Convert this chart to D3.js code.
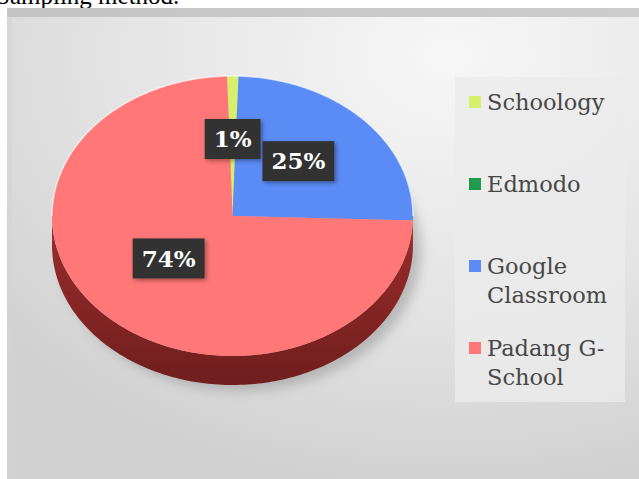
<!DOCTYPE html>
<html>
<head>
<meta charset="utf-8">
<script src="https://cdn.jsdelivr.net/npm/d3@7"></script>
<style>
  body { margin: 0; background: #ffffff; overflow: hidden; }
  #chart { width: 639px; height: 479px; }
</style>
</head>
<body>
<div id="chart"></div>
<script>
// --- data ---
var categories = ["Schoology", "Edmodo", "Google Classroom", "Padang G-School"];
var legendLines = [["Schoology"], ["Edmodo"], ["Google", "Classroom"], ["Padang G-", "School"]];
var shares = [1, 0, 25, 74];
var colors = ["#d6f06c", "#1e9b4c", "#5b8cf6", "#ff7777"];

var W = 639, H = 479;
var cx = 232.5, cy = 216, rx = 180.5, ry = 140, depth = 29;

var svg = d3.select("#chart").append("svg")
    .attr("width", W)
    .attr("height", H);

var defs = svg.append("defs");

// background gradient
var bg = defs.append("radialGradient")
    .attr("id", "bgGrad")
    .attr("cx", "70%").attr("cy", "10%").attr("r", "95%");
bg.append("stop").attr("offset", "0%").attr("stop-color", "#f7f7f7");
bg.append("stop").attr("offset", "55%").attr("stop-color", "#e4e4e4");
bg.append("stop").attr("offset", "100%").attr("stop-color", "#d0d0d0");

var topBand = defs.append("linearGradient")
    .attr("id", "bandGrad").attr("x1", 0).attr("x2", 1).attr("y1", 0).attr("y2", 0);
topBand.append("stop").attr("offset", "0%").attr("stop-color", "#c4c4c4");
topBand.append("stop").attr("offset", "100%").attr("stop-color", "#cdcdcd");

var blur = defs.append("filter").attr("id", "softShadow")
    .attr("x", "-20%").attr("y", "-20%").attr("width", "140%").attr("height", "140%");
blur.append("feGaussianBlur").attr("stdDeviation", 6);

var boxShadow = defs.append("filter").attr("id", "boxShadow")
    .attr("x", "-30%").attr("y", "-30%").attr("width", "160%").attr("height", "160%");
boxShadow.append("feDropShadow")
    .attr("dx", 2).attr("dy", 2).attr("stdDeviation", 2)
    .attr("flood-color", "#000").attr("flood-opacity", 0.35);

// caption of the page, mostly hidden behind the chart image
svg.append("text")
    .attr("x", -4)
    .attr("y", 4)
    .style("font-family", "'Liberation Serif', serif")
    .style("font-size", "25px")
    .style("fill", "#000")
    .text("Sampling method.");

// chart area
svg.append("rect")
    .attr("x", 7).attr("y", 8)
    .attr("width", W - 7).attr("height", H - 8)
    .attr("fill", "url(#bgGrad)");
svg.append("rect")
    .attr("x", 7).attr("y", 8)
    .attr("width", W - 7).attr("height", 9)
    .attr("fill", "url(#bandGrad)");
svg.append("rect")
    .attr("x", 7).attr("y", 17)
    .attr("width", 5).attr("height", H - 17)
    .attr("fill", "#d3d3d3").attr("opacity", 0.6);

// --- pie geometry ---
var pie = d3.pie().sort(null).startAngle(-0.03).endAngle(2 * Math.PI - 0.03).value(d => d);
var arcs = pie(shares);

function pt(a, dy) {
    return [cx + rx * Math.sin(a), cy - ry * Math.cos(a) + (dy || 0)];
}

function angleSteps(a0, a1) {
    var n = Math.max(2, Math.ceil((a1 - a0) / 0.02));
    return d3.range(n + 1).map(i => a0 + (a1 - a0) * i / n);
}

var line = d3.line();

function topPath(a0, a1) {
    var pts = [[cx, cy]].concat(angleSteps(a0, a1).map(a => pt(a)));
    return line(pts) + "Z";
}

function sidePath(a0, a1) {
    var s = Math.max(a0, Math.PI / 2), e = Math.min(a1, 3 * Math.PI / 2);
    if (e <= s) return null;
    var steps = angleSteps(s, e);
    var pts = steps.map(a => pt(a)).concat(steps.slice().reverse().map(a => pt(a, depth)));
    return line(pts) + "Z";
}

// shadow under the pie
svg.append("path")
    .attr("d", line(angleSteps(0, 2 * Math.PI).map(a => pt(a, depth + 6)).map(p => [p[0] + 8, p[1]])) + "Z")
    .attr("fill", "#8c8c8c")
    .attr("opacity", 0.5)
    .attr("filter", "url(#softShadow)");

// side gradients: deeper, saturated shade of each slice colour
arcs.forEach((d, i) => {
    var hsl = d3.hsl(colors[i]);
    var g = defs.append("linearGradient")
        .attr("id", "side" + i)
        .attr("x1", 0).attr("x2", 0).attr("y1", 0).attr("y2", 1);
    g.append("stop").attr("offset", "0%").attr("stop-color", d3.hsl(hsl.h, 0.55, hsl.l * 0.54));
    g.append("stop").attr("offset", "100%").attr("stop-color", d3.hsl(hsl.h, 0.58, hsl.l * 0.38));
});

var pieG = svg.append("g");

pieG.selectAll("path.side")
    .data(arcs.filter(d => d.value > 0 && sidePath(d.startAngle, d.endAngle)))
    .enter().append("path")
    .attr("class", "side")
    .attr("d", d => sidePath(d.startAngle, d.endAngle))
    .attr("fill", d => "url(#side" + d.index + ")");

pieG.selectAll("path.top")
    .data(arcs.filter(d => d.value > 0))
    .enter().append("path")
    .attr("class", "top")
    .attr("d", d => topPath(d.startAngle, d.endAngle))
    .attr("fill", d => colors[d.index]);

// rim highlight
pieG.append("path")
    .attr("d", line(angleSteps(-Math.PI / 2, Math.PI / 2).map(a => pt(a))))
    .attr("fill", "none")
    .attr("stroke", "#ffffff")
    .attr("stroke-opacity", 0.6)
    .attr("stroke-width", 1.5);

// --- data labels ---
var labelG = svg.append("g");
arcs.filter(d => d.value > 0).forEach(d => {
    var mid = (d.startAngle + d.endAngle) / 2;
    var x = cx + rx * 0.5 * Math.sin(mid);
    var y = cy - ry * 0.5 * Math.cos(mid) - 7;
    var g = labelG.append("g").attr("transform", `translate(${x},${y})`);
    var rect = g.append("rect").attr("fill", "#333333").attr("filter", "url(#boxShadow)");
    var t = g.append("text")
        .attr("text-anchor", "middle")
        .attr("dy", "0.36em")
        .style("font-family", "'DejaVu Serif', serif")
        .style("font-weight", "bold")
        .style("font-size", "23px")
        .style("fill", "#ffffff")
        .text(d.value + "%");
    var w = t.node().getComputedTextLength() + 18;
    rect.attr("x", -w / 2).attr("y", -20).attr("width", w).attr("height", 40);
});

// --- legend ---
var legend = svg.append("g");
legend.append("rect")
    .attr("x", 455).attr("y", 77)
    .attr("width", 170).attr("height", 325)
    .attr("fill", "#ebebeb")
    .attr("opacity", 0.8);

var item = legend.selectAll("g.item")
    .data(categories)
    .enter().append("g")
    .attr("class", "item")
    .attr("transform", (d, i) => `translate(469, ${110 + i * 82})`);

item.append("rect")
    .attr("x", 0).attr("y", -14)
    .attr("width", 12).attr("height", 12)
    .attr("fill", (d, i) => colors[i]);

item.append("text")
    .style("font-family", "'DejaVu Serif', serif")
    .style("font-size", "22.5px")
    .style("fill", "#474747")
    .selectAll("tspan")
    .data((d, i) => legendLines[i])
    .enter().append("tspan")
    .attr("x", 18)
    .attr("y", (d, j) => j * 29)
    .text(d => d);
</script>
</body>
</html>
